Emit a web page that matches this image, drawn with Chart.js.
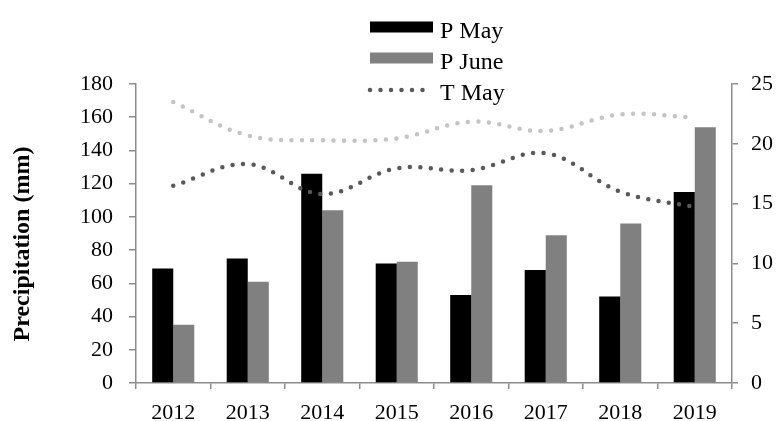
<!DOCTYPE html>
<html lang="en">
<head>
    <meta charset="UTF-8">
    <title>Precipitation and Temperature</title>
    <style>
        body {
            margin: 0;
            padding: 0;
            background: #ffffff;
        }

        .graph {
            width: 779px;
            height: 421px;
        }
    </style>
</head>
<body>
    <div class="graph">
        <canvas id="climateChart" width="779" height="421"></canvas>
    </div>

    <script src="https://cdn.jsdelivr.net/npm/chart.js"></script>
    <script>
        // Data
        const years = ["2012", "2013", "2014", "2015", "2016", "2017", "2018", "2019"];
        const pMay = [69, 75, 126, 72, 53, 68, 52, 115];
        const pJune = [35, 61, 104, 73, 119, 89, 96, 154];
        const tMay = [16.5, 18.3, 15.8, 17.95, 17.8, 19.2, 16.0, 14.7];
        const tJune = [23.5, 20.7, 20.3, 20.45, 21.85, 21.07, 22.45, 22.2];

        const serif = '"Liberation Serif", "Times New Roman", serif';

        // Legend stacked in one column + rotated axis title
        const stackedLegend = {
            id: "stackedLegend",
            afterDraw(chart) {
                const ctx = chart.ctx;
                ctx.save();
                ctx.font = "24px " + serif;
                ctx.fillStyle = "#000";
                ctx.textAlign = "left";
                ctx.textBaseline = "alphabetic";
                let row = 0;
                chart.data.datasets.forEach((ds) => {
                    if (ds.inLegend === false) return;
                    const cy = 27 + row * 31;
                    if (ds.type === "line") {
                        ctx.save();
                        ctx.strokeStyle = ds.borderColor;
                        ctx.lineWidth = ds.borderWidth;
                        ctx.lineCap = "round";
                        ctx.setLineDash(ds.borderDash);
                        ctx.beginPath();
                        ctx.moveTo(370, cy + 1);
                        ctx.lineTo(423, cy + 1);
                        ctx.stroke();
                        ctx.restore();
                    } else {
                        ctx.fillStyle = ds.backgroundColor;
                        ctx.fillRect(370, cy - 5.5, 63, 11);
                    }
                    ctx.fillStyle = "#000";
                    ctx.fillText(ds.label, 440, cy + 11);
                    row++;
                });

                ctx.translate(23, 244);
                ctx.rotate(-Math.PI / 2);
                ctx.font = "bold 24px " + serif;
                ctx.textAlign = "center";
                ctx.textBaseline = "middle";
                ctx.fillText("Precipitation (mm)", 0, 0);
                ctx.restore();
            }
        };

        const axisGrey = "#8c8c8c";

        const ctx = document.getElementById("climateChart").getContext("2d");
        const chart = new Chart(ctx, {
            type: "bar",
            data: {
                labels: years,
                datasets: [
                    {
                        label: "P May",
                        data: pMay,
                        backgroundColor: "#000000",
                        yAxisID: "y",
                        order: 2,
                        barPercentage: 1,
                        categoryPercentage: 0.565,
                    },
                    {
                        label: "P June",
                        data: pJune,
                        backgroundColor: "#808080",
                        yAxisID: "y",
                        order: 2,
                        barPercentage: 1,
                        categoryPercentage: 0.565,
                    },
                    {
                        type: "line",
                        label: "T May",
                        data: tMay,
                        yAxisID: "y1",
                        borderColor: "#595959",
                        borderWidth: 4.5,
                        borderDash: [0, 10.5],
                        borderCapStyle: "round",
                        pointRadius: 0,
                        tension: 0.38,
                        fill: false,
                        order: 1,
                    },
                    {
                        type: "line",
                        label: "T June",
                        inLegend: false,
                        data: tJune,
                        yAxisID: "y1",
                        borderColor: "#c4c4c4",
                        borderWidth: 4.5,
                        borderDash: [0, 10.5],
                        borderCapStyle: "round",
                        pointRadius: 0,
                        tension: 0.38,
                        fill: false,
                        order: 1,
                    },
                ],
            },
            options: {
                responsive: false,
                animation: false,
                layout: {
                    padding: { top: 84, left: 0, right: 0, bottom: 0 },
                },
                plugins: {
                    legend: { display: false },
                    tooltip: { enabled: false },
                },
                scales: {
                    x: {
                        border: { display: true, color: axisGrey, width: 1.5 },
                        grid: {
                            drawOnChartArea: false,
                            drawTicks: true,
                            tickLength: 6,
                            color: axisGrey,
                            lineWidth: 1.5,
                        },
                        ticks: {
                            color: "#000",
                            padding: 11,
                            maxRotation: 0,
                            font: { family: serif, size: 22 },
                        },
                        afterFit: (scale) => { scale.height = 38; },
                    },
                    y: {
                        position: "left",
                        min: 0,
                        max: 180,
                        border: { display: true, color: axisGrey, width: 1.5 },
                        grid: {
                            drawOnChartArea: false,
                            drawTicks: true,
                            tickLength: 7,
                            color: axisGrey,
                            lineWidth: 1.5,
                        },
                        ticks: {
                            stepSize: 20,
                            color: "#000",
                            padding: 16,
                            font: { family: serif, size: 22 },
                        },
                        afterFit: (scale) => { scale.width = 136; },
                    },
                    y1: {
                        position: "right",
                        min: 0,
                        max: 25,
                        border: { display: true, color: axisGrey, width: 1.5 },
                        grid: {
                            drawOnChartArea: false,
                            drawTicks: true,
                            tickLength: 6,
                            color: axisGrey,
                            lineWidth: 1.5,
                        },
                        ticks: {
                            stepSize: 5,
                            color: "#000",
                            padding: 13,
                            font: { family: serif, size: 22 },
                        },
                        afterFit: (scale) => { scale.width = 47; },
                    },
                },
            },
            plugins: [stackedLegend],
        });
    </script>
</body>
</html>
